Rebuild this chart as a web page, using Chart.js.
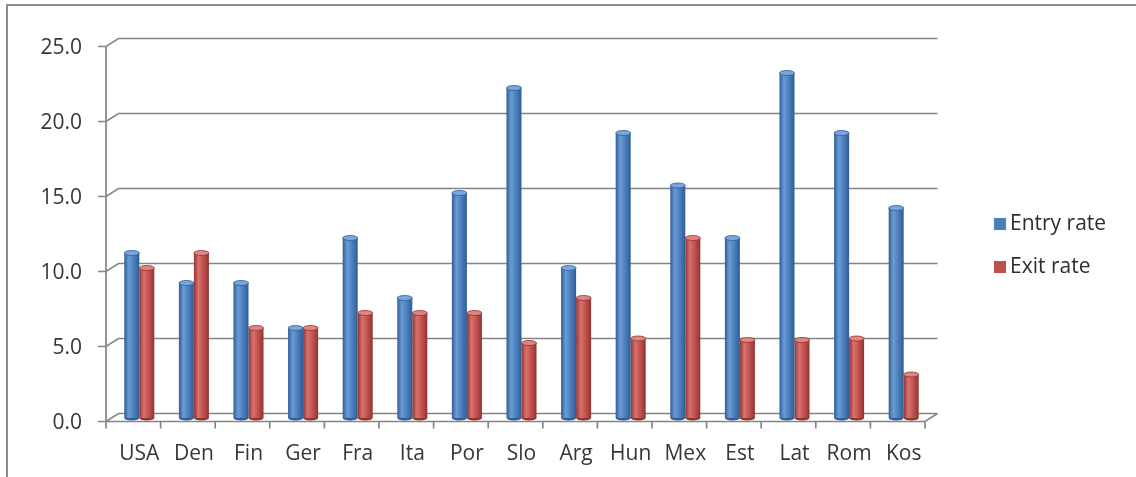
<!DOCTYPE html>
<html>
<head>
<meta charset="utf-8">
<script src="https://cdn.jsdelivr.net/npm/chart.js@4"></script>
<style>
  html, body { margin: 0; padding: 0; background: #fff; }
  #wrap { position: relative; width: 1136px; height: 477px; }
  #frame { position: absolute; left: 6px; top: 4px; right: -4px; bottom: -4px;
           border-top: 2px solid #8c8c8c; border-left: 2px solid #8c8c8c; pointer-events: none; }
</style>
</head>
<body>
<div id="wrap">
  <canvas id="ratesChart" width="1136" height="477"></canvas>
  <div id="frame"></div>
</div>
<script>
// Tasas de entrada y salida por país
const paises = ['USA', 'Den', 'Fin', 'Ger', 'Fra', 'Ita', 'Por', 'Slo', 'Arg', 'Hun', 'Mex', 'Est', 'Lat', 'Rom', 'Kos'];
const entryRate = [11, 9, 9, 6, 12, 8, 15, 22, 10, 19, 15.5, 12, 23, 19, 14];
const exitRate = [10, 11, 6, 6, 7, 7, 7, 5, 8, 5.3, 12, 5.2, 5.2, 5.3, 2.9];
const yTicks = [0, 5, 10, 15, 20, 25];

const CAT_PCT = 0.55;
const FUENTE = { family: 'Open Sans', size: 21 };
const colores = {
    entry: { base: '#4a7ebb', light: '#6a9bd6', dark: '#2f5d94', cap: '#7aa6dc' },
    exit:  { base: '#c0504d', light: '#d9716d', dark: '#8f3431', cap: '#e08580' }
};

// Degradado horizontal para que cada barra parezca un cilindro
function cilindro(c, col) {
    const chart = c.chart;
    const xs = chart.scales.x;
    if (c.dataIndex === undefined || !xs || !chart.chartArea) return col.base;
    const ancho = xs.width / paises.length * CAT_PCT / 2;
    const cx = xs.getPixelForValue(c.dataIndex);
    const izq = c.datasetIndex === 0 ? cx - ancho : cx;
    const g = chart.ctx.createLinearGradient(izq, 0, izq + ancho, 0);
    g.addColorStop(0, col.dark);
    g.addColorStop(0.3, col.light);
    g.addColorStop(0.65, col.base);
    g.addColorStop(1, col.dark);
    return g;
}

// Marco en perspectiva: pared del fondo, piso y eje frontal
const marco3d = {
    id: 'marco3d',
    beforeDatasetsDraw(chart) {
        const { ctx, scales: { y }, chartArea: a } = chart;
        const fx = a.left - 6, fdy = 3.5;       // plano frontal
        const bx = a.left + 6.5, bdy = -4.5;    // plano del fondo
        const fright = a.right - 6, bright = a.right + 6.5;
        const n = paises.length;
        ctx.save();
        ctx.strokeStyle = '#858585';
        ctx.lineWidth = 1.7;
        ctx.beginPath();
        yTicks.forEach(v => {
            const py = y.getPixelForValue(v);
            ctx.moveTo(fx - 8, py + fdy);
            ctx.lineTo(fx, py + fdy);
            ctx.lineTo(bx, py + bdy);
            ctx.lineTo(bright, py + bdy);
        });
        const y0 = y.getPixelForValue(0);
        ctx.moveTo(fx, y.getPixelForValue(yTicks[yTicks.length - 1]) + fdy);
        ctx.lineTo(fx, y0 + fdy + 7);
        ctx.moveTo(fx, y0 + fdy);
        ctx.lineTo(fright, y0 + fdy);
        ctx.lineTo(bright, y0 + bdy);
        for (let i = 1; i <= n; i++) {
            const px = fx + (fright - fx) * i / n;
            ctx.moveTo(px, y0 + fdy);
            ctx.lineTo(px, y0 + fdy + 7);
        }
        ctx.stroke();
        ctx.restore();
    },
    afterDatasetsDraw(chart) {
        // tapas elípticas arriba y abajo de cada cilindro
        const ctx = chart.ctx;
        chart.data.datasets.forEach((ds, i) => {
            const col = i === 0 ? colores.entry : colores.exit;
            chart.getDatasetMeta(i).data.forEach(el => {
                const r = el.width / 2;
                ctx.save();
                ctx.beginPath();
                ctx.ellipse(el.x, el.base, r, 2.5, 0, 0, Math.PI);
                ctx.fillStyle = col.dark;
                ctx.fill();
                ctx.beginPath();
                ctx.ellipse(el.x, el.y, r, 2.5, 0, 0, Math.PI * 2);
                ctx.fillStyle = col.cap;
                ctx.fill();
                ctx.lineWidth = 0.8;
                ctx.strokeStyle = col.dark;
                ctx.stroke();
                ctx.restore();
            });
        });
    },
    afterDraw(chart) {
        // leyenda a la derecha
        const ctx = chart.ctx;
        const items = [
            { text: chart.data.datasets[0].label, color: colores.entry.base, y: 224 },
            { text: chart.data.datasets[1].label, color: colores.exit.base, y: 267 }
        ];
        ctx.save();
        ctx.font = FUENTE.size + 'px "Open Sans"';
        ctx.textBaseline = 'middle';
        items.forEach(it => {
            ctx.fillStyle = it.color;
            ctx.fillRect(994, it.y - 6, 12, 12);
            ctx.fillStyle = '#2e2e2e';
            ctx.fillText(it.text, 1010, it.y);
        });
        ctx.restore();
    }
};

const ctx = document.getElementById('ratesChart').getContext('2d');
new Chart(ctx, {
    type: 'bar',
    data: {
        labels: paises,
        datasets: [
            { label: 'Entry rate', data: entryRate, backgroundColor: c => cilindro(c, colores.entry) },
            { label: 'Exit rate', data: exitRate, backgroundColor: c => cilindro(c, colores.exit) }
        ]
    },
    options: {
        responsive: false,
        animation: false,
        layout: { padding: { left: 0, right: 205, top: 43, bottom: 0 } },
        datasets: { bar: { categoryPercentage: CAT_PCT, barPercentage: 1, borderWidth: 0 } },
        plugins: { legend: { display: false }, tooltip: { enabled: false } },
        scales: {
            x: {
                grid: { display: false, drawTicks: false },
                border: { display: false },
                ticks: { font: FUENTE, color: '#363636', padding: 23, maxRotation: 0 },
                afterFit: s => { s.height = 59; }
            },
            y: {
                min: 0, max: 25,
                afterBuildTicks: s => { s.ticks = yTicks.map(v => ({ value: v })); },
                grid: { display: false, drawTicks: false },
                border: { display: false },
                ticks: { font: FUENTE, color: '#363636', padding: 30,
                         labelOffset: 5, callback: v => v.toFixed(1) },
                afterFit: s => { s.width = 112; }
            }
        }
    },
    plugins: [marco3d]
});
</script>
</body>
</html>
